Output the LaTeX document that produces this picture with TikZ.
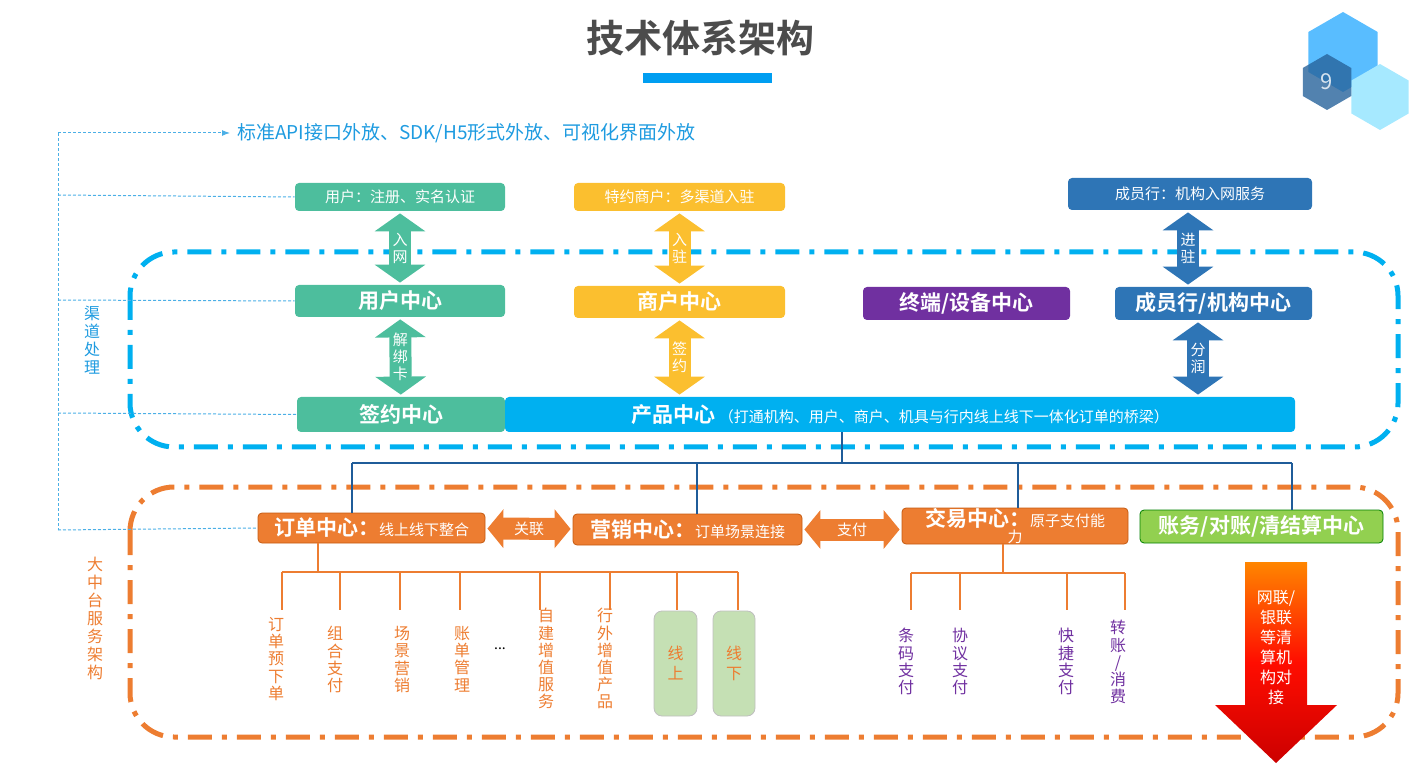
\documentclass[tikz,border=0pt]{standalone}
\usepackage{fontspec}
\setmainfont{Noto Sans CJK SC}[BoldFont={Noto Sans CJK SC Bold}]
\usepackage{xcolor}
\usetikzlibrary{shapes,arrows.meta,positioning,calc}
\XeTeXlinebreaklocale "zh"
\definecolor{tealc}{HTML}{4DBE9D}
\definecolor{yellowc}{HTML}{FBBF2F}
\definecolor{purplec}{HTML}{7030A0}
\definecolor{navyc}{HTML}{2E75B6}
\definecolor{cyanc}{HTML}{00B0F0}
\definecolor{orangec}{HTML}{ED7D31}
\definecolor{orangeb}{HTML}{C55A11}
\definecolor{greenc}{HTML}{92D050}
\definecolor{treeblue}{HTML}{1F5C99}
\definecolor{lightgreen}{HTML}{C5E0B4}
\definecolor{textblue}{HTML}{1E9BE0}
\newcommand{\fs}[2]{\fontsize{#1}{#2}\selectfont}
\tikzset{
  box/.style={rectangle, rounded corners=2pt, text=white, inner sep=0pt, align=center},
  small/.style={font=\fs{7.5}{9}},
  big/.style={font=\bfseries\fs{10.5}{12}},
  vlabel/.style={anchor=north, align=center, inner sep=0pt, font=\fs{8}{8.6}},
  varrow/.style={line width=11pt, {Triangle[width=25pt,length=9pt]}-{Triangle[width=25pt,length=9pt]}, shorten <=1pt, shorten >=1pt},
  harrow/.style={line width=11pt, {Triangle[width=19pt,length=8pt]}-{Triangle[width=19pt,length=8pt]}, orangec, shorten <=1pt, shorten >=1pt},
  alabel/.style={text=white, align=center, font=\fs{7.5}{8.5}},
  dashdot/.style={line width=2.5pt, rounded corners=22pt, dash pattern=on 12pt off 5pt on 2.5pt off 5pt},
  feed/.style={dash pattern=on 1.5pt off 1pt, textblue!80, line width=0.5pt},
  hexa/.style={regular polygon, regular polygon sides=6, shape border rotate=30, inner sep=0pt}
}
\begin{document}
\begin{tikzpicture}[x=0.5pt, y=-0.5pt]
    \useasboundingbox (0,0) rectangle (1417,769);
    % Title and logo
    \node[text=black!70, font=\bfseries\fs{19}{22}] (title) at (700,38) {技术体系架构};
    \fill[cyanc!90!blue] (643,73) rectangle (772,83);
    \node[hexa, fill=blue!40!cyan!65, minimum size=40pt] (hexa) at (1343,52) {};
    \node[hexa, fill=blue!25!cyan!35, minimum size=33pt] (hexb) at (1380,97) {};
    \node[hexa, fill=navyc!85!black, opacity=0.8, minimum size=28pt, text=white, font=\fs{11}{13}] (logo) at (1327,82) {9};

    % Outer frames
    \draw[cyanc, dashdot] (130,252) rectangle (1398,447);
    \draw[orangec, dashdot] (130,487) rectangle (1398,737);
    \node[text=textblue, align=center, font=\fs{8}{9}] (chan) at (92,340) {渠\\道\\处\\理};
    \node[text=orangec, align=center, font=\fs{8}{9}] (mid) at (95,618) {大\\中\\台\\服\\务\\架\\构};

    % Channel layer
    \node[text=textblue, anchor=west, font=\fs{9.5}{11}] (api) at (230,133) {标准API接口外放、SDK/H5形式外放、可视化界面外放};
    \node[box, small, fill=tealc, minimum width=105pt, minimum height=14pt] (userreg) at (400,197) {用户：注册、实名认证};
    \node[box, big, fill=tealc, minimum width=105pt, minimum height=16pt] (user) at (400,301) {用户中心};
    \node[box, small, fill=yellowc, minimum width=105.5pt, minimum height=14pt] (merreg) at (679.5,197) {特约商户：多渠道入驻};
    \node[box, big, fill=yellowc, minimum width=105.5pt, minimum height=16pt] (mer) at (679.5,302) {商户中心};
    \node[box, big, fill=purplec, minimum width=103.5pt, minimum height=16.5pt] (term) at (966.5,303.5) {终端/设备中心};
    \node[box, small, fill=navyc, minimum width=122pt, minimum height=16pt] (bankreg) at (1190,194) {成员行：机构入网服务};
    \node[box, big, fill=navyc, minimum width=98.5pt, minimum height=16.5pt] (bank) at (1213.5,303.5) {成员行/机构中心};
    \node[box, big, fill=tealc, minimum width=104pt, minimum height=17.5pt] (sign) at (401,414.5) {签约中心};
    \node[box, fill=cyanc, minimum width=395pt, minimum height=17.5pt, font=\bfseries\fs{10.5}{12}] (prod) at (900,414.5) {产品中心\,{\mdseries\fs{7.5}{9}（打通机构、用户、商户、机具与行内线上线下一体化订单的桥梁）}};

    \draw[varrow, tealc] (userreg) -- (user) node[midway, alabel] {入\\网};
    \draw[varrow, tealc] (user) -- (sign) node[midway, alabel] {解\\绑\\卡};
    \draw[varrow, yellowc] (merreg) -- (mer) node[midway, alabel] {入\\驻};
    \draw[varrow, yellowc] (mer) -- (prod.north -| mer.south) node[midway, alabel] {签\\约};
    \draw[varrow, navyc] (bankreg.south -| 1188,0) -- (bank.north -| 1188,0) node[midway, alabel] {进\\驻};
    \draw[varrow, navyc] (bank.south -| 1198,0) -- (prod.north -| 1198,0) node[midway, alabel] {分\\润};

    % Middle platform
    \node[box, fill=orangec, draw=orangeb, minimum width=113.5pt, minimum height=15pt, font=\bfseries\fs{10.5}{12}] (order) at (371.5,528) {订单中心：{\mdseries\fs{7.5}{9}线上线下整合}};
    \node[box, fill=orangec, draw=orangeb, minimum width=114.5pt, minimum height=15.5pt, font=\bfseries\fs{10.5}{12}] (mkt) at (687.5,529.5) {营销中心：{\mdseries\fs{7.5}{9}订单场景连接}};
    \node[box, fill=orangec, draw=orangeb, minimum width=113pt, minimum height=18pt, font=\bfseries\fs{10.5}{9}] (trade) at (1015,526) {交易中心：{\mdseries\fs{7.5}{9}原子支付能}\\[-1pt]{\mdseries\fs{7.5}{9}力}};
    \node[box, fill=greenc, draw=green!50!black, minimum width=121.5pt, minimum height=16.5pt, font=\bfseries\fs{10.5}{12}] (acct) at (1261.5,526.5) {账务/对账/清结算中心};
    \draw[harrow] (order) -- (mkt) node[midway, alabel] {关联};
    \draw[harrow] (mkt) -- (trade.west |- mkt) node[midway, alabel] {支付};

    % Product tree
    \draw[treeblue, line width=1.3pt] (prod.south -| 842,0) -- (842,463);
    \draw[treeblue, line width=1.3pt] (352,463) -- (1292,463);
    \draw[treeblue, line width=1.3pt] (352,463) -- (order.north -| 352,0);
    \draw[treeblue, line width=1.3pt] (697,463) -- (mkt.north -| 697,0);
    \draw[treeblue, line width=1.3pt] (1018,463) -- (trade.north -| 1018,0);
    \draw[treeblue, line width=1.3pt] (1292,463) -- (acct.north -| 1292,0);

    % Order sub items
    \node[vlabel, text=orangec] (o1) at (276,617) {订\\单\\预\\下\\单};
    \node[vlabel, text=orangec] (o2) at (335,626) {组\\合\\支\\付};
    \node[vlabel, text=orangec] (o3) at (402,626) {场\\景\\营\\销};
    \node[vlabel, text=orangec] (o4) at (462,626) {账\\单\\管\\理};
    \node[text=black, font=\fs{7}{8}] (dots) at (500,649) {...};
    \node[vlabel, text=orangec] (o5) at (546,608) {自\\建\\增\\值\\服\\务};
    \node[vlabel, text=orangec] (o6) at (605,608) {行\\外\\增\\值\\产\\品};
    \node[box, rounded corners=4pt, fill=lightgreen, draw=black!25, minimum width=21.5pt, minimum height=52.5pt, text=orangec, font=\fs{8}{10}] (on) at (675.5,663.5) {线\\上};
    \node[box, rounded corners=4pt, fill=lightgreen, draw=black!25, minimum width=21pt, minimum height=52.5pt, text=orangec, font=\fs{8}{10}] (off) at (734,663.5) {线\\下};
    \draw[orangec, line width=1.3pt] (order.south -| 318,0) -- (318,572);
    \draw[orangec, line width=1.3pt] (282,572) -- (738,572);
    \foreach \px/\n in {282/o1, 340/o2, 400/o3, 460/o4, 540/o5, 610/o6, 677/on, 738/off}
        \draw[orangec, line width=1.3pt] (\px,572) -- (\px,610);

    % Trade sub items
    \node[vlabel, text=purplec] (t1) at (906,628) {条\\码\\支\\付};
    \node[vlabel, text=purplec] (t2) at (960,628) {协\\议\\支\\付};
    \node[vlabel, text=purplec] (t3) at (1066,628) {快\\捷\\支\\付};
    \node[vlabel, text=purplec] (t4) at (1118,620) {转\\账\\/\\消\\费};
    \draw[orangec, line width=1.3pt] (trade.south -| 1003,0) -- (1003,573);
    \draw[orangec, line width=1.3pt] (911,573) -- (1125,573);
    \foreach \px in {911, 960, 1067, 1125}
        \draw[orangec, line width=1.3pt] (\px,573) -- (\px,610);

    % Clearing arrow
    \shade[top color=orange!95!yellow, bottom color=red!80!black, middle color=red!90!orange]
        (1245,562) -- (1307,562) -- (1307,705) -- (1337,705) -- (1276,763) -- (1215,705) -- (1245,705) -- cycle;
    \node[alabel, font=\fs{8}{10}] (clear) at (1276,648) {网联/\\银联\\等清\\算机\\构对\\接};

    % Feed lines
    \draw[feed] (58,133) -- (58,530);
    \draw[feed, -{Latex[length=4pt]}] (58,133) -- (api.west);
    \draw[feed] (58,195) -- (userreg.west);
    \draw[feed] (58,300) -- (user.west);
    \draw[feed] (58,413) -- (sign.west);
    \draw[feed] (58,530) -- (order.west);
\end{tikzpicture}
\end{document}
